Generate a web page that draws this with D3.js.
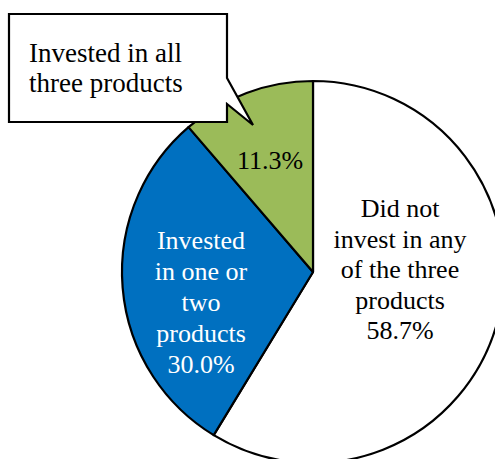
<!DOCTYPE html>
<html>
<head>
<meta charset="utf-8">
<script src="https://cdn.jsdelivr.net/npm/d3@7"></script>
<style>
  html, body { margin: 0; padding: 0; background: #fff; }
  svg { display: block; }
</style>
</head>
<body>
<svg id="chart" width="495" height="459"></svg>
<script>
// Share of respondents by how many of the three products they invested in
const categories = ["Did not invest in any of the three products", "Invested in one or two products", "Invested in all three products"];
const values = [58.7, 30.0, 11.3];
const colors = ["#FFFFFF", "#0070C0", "#9BBB59"];
const labelLines = [
  ["Did not", "invest in any", "of the three", "products", "58.7%"],
  ["Invested", "in one or", "two", "products", "30.0%"],
  ["11.3%"]
];
const labelColors = ["#000", "#fff", "#000"];
const calloutLines = ["Invested in all", "three products"];

const FONT = "'Liberation Serif', 'DejaVu Serif', 'Noto Serif', serif";

const svg = d3.select("#chart");
const cx = 313, cy = 272, r = 191;

const pie = d3.pie().sort(null).value(d => d)(values);
const arc = d3.arc().innerRadius(0).outerRadius(r);

const g = svg.append("g").attr("transform", `translate(${cx},${cy})`);
g.selectAll("path.slice")
  .data(pie)
  .join("path")
  .attr("class", "slice")
  .attr("d", arc)
  .attr("fill", (d, i) => colors[i])
  .attr("stroke", "#000")
  .attr("stroke-width", 2.2)
  .attr("stroke-linejoin", "round");

// Label positions inside each slice (offsets from centre)
const labelPos = [
  { x: 87, y: -55, dy: 30.5 },
  { x: -112, y: -23, dy: 31 },
  { x: -43, y: -103, dy: 30 }
];
pie.forEach((d, i) => {
  const t = g.append("text")
    .attr("text-anchor", "middle")
    .style("font-family", FONT)
    .attr("font-size", 26)
    .attr("fill", labelColors[i]);
  labelLines[i].forEach((line, k) => {
    t.append("tspan")
      .attr("x", labelPos[i].x)
      .attr("y", labelPos[i].y + k * labelPos[i].dy)
      .text(line);
  });
});

// Callout box with pointer toward the green slice
const callout = svg.append("g");
callout.append("path")
  .attr("d", "M9,14 H227 V78 L253,125 L227,104 V122 H9 Z")
  .attr("fill", "#fff")
  .attr("stroke", "#000")
  .attr("stroke-width", 2.2)
  .attr("stroke-linejoin", "miter");
const ct = callout.append("text")
  .style("font-family", FONT)
  .attr("font-size", 27)
  .attr("fill", "#000");
calloutLines.forEach((line, k) => {
  ct.append("tspan").attr("x", 29).attr("y", 62 + k * 30).text(line);
});
</script>
</body>
</html>
